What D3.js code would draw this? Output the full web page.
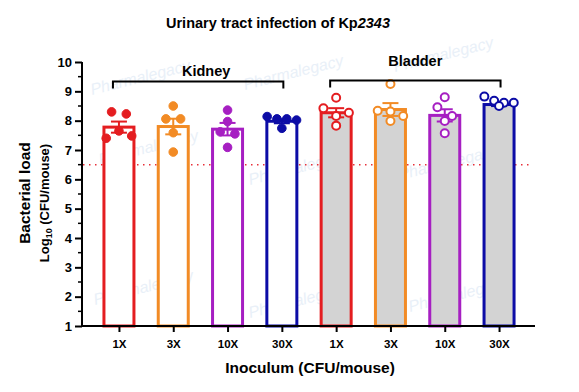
<!DOCTYPE html>
<html><head><meta charset="utf-8">
<script src="https://cdn.jsdelivr.net/npm/d3@7"></script>
<style>body{margin:0;background:#fff}svg{display:block}text{font-family:"Liberation Sans",Arial,sans-serif}</style>
</head><body><svg id="c" width="579" height="392"></svg>
<script>
// ---- data ----
const categories = ["1X","3X","10X","30X","1X","3X","10X","30X"];
const organs = ["Kidney","Kidney","Kidney","Kidney","Bladder","Bladder","Bladder","Bladder"];
const groupNames = ["Kidney","Bladder"];
const means = [7.78, 7.80, 7.71, 7.98, 8.27, 8.38, 8.18, 8.55];
const points = [
  [8.30, 8.23, 7.40, 7.65, 7.48],
  [8.50, 8.06, 8.06, 7.59, 6.93],
  [8.36, 7.97, 7.62, 7.55, 7.09],
  [8.14, 8.06, 8.06, 8.02, 7.74],
  [8.78, 8.42, 8.16, 8.27, 7.83],
  [9.25, 8.34, 8.31, 8.16, 7.99],
  [8.80, 8.46, 8.16, 7.99, 7.57],
  [8.82, 8.68, 8.61, 8.61, 8.50]
];
const detectionLimit = 6.5;
const yTicks = [1,2,3,4,5,6,7,8,9,10];
const yMinorTicks = [1.5,2.5,3.5,4.5,5.5,6.5,7.5,8.5,9.5];
const colors = ["#e41d20","#f28b25","#a61fc2","#0c0ca6","#e41d20","#f28b25","#a61fc2","#0c0ca6"];
const bladderFill = "#d3d3d3";

// ---- layout ----
const svg = d3.select("#c");
const x = d3.scaleBand().domain(d3.range(categories.length)).range([91.8, 526.2]).paddingInner(0.45).paddingOuter(0.225);
const y = d3.scaleLinear().domain([1,10]).range([326, 62]);
const cx = i => x(i) + x.bandwidth()/2;

// watermark (faint)
const wm = [[92,95],[245,90],[395,72],[100,165],[250,185],[400,180],[95,305],[250,318],[410,312]];
svg.append("g").selectAll("text").data(wm).join("text")
  .attr("transform", d => `translate(${d[0]},${d[1]}) rotate(-14)`)
  .attr("font-size", 16).attr("font-style","italic").attr("fill","#e9f0f8")
  .text("Pharmalegacy");

// detection limit
svg.append("line").attr("x1", 83).attr("x2", 533).attr("y1", y(detectionLimit)).attr("y2", y(detectionLimit))
  .attr("stroke", "#e8303a").attr("stroke-width", 1.5).attr("stroke-dasharray", "1.5,4.5");

// bars
const bw = 30;
svg.append("g").selectAll("rect").data(means).join("rect")
  .attr("x", (d,i) => cx(i) - bw/2).attr("width", bw)
  .attr("y", d => y(d)).attr("height", d => y(1) - y(d))
  .attr("fill", (d,i) => organs[i] === "Bladder" ? bladderFill : "#fff")
  .attr("stroke", (d,i) => colors[i]).attr("stroke-width", 3);

// error bars (SEM)
const eg = svg.append("g");
means.forEach((m,i) => {
  const sem = d3.deviation(points[i]) / Math.sqrt(points[i].length);
  const c = cx(i), col = colors[i];
  eg.append("line").attr("x1", c).attr("x2", c).attr("y1", y(m - sem)).attr("y2", y(m + sem)).attr("stroke", col).attr("stroke-width", 2);
  [m - sem, m + sem].forEach(v => eg.append("line").attr("x1", c - 8).attr("x2", c + 8).attr("y1", y(v)).attr("y2", y(v)).attr("stroke", col).attr("stroke-width", 2));
});

// points (row-centred scatter)
const spacing = 9.8, rowGap = 9.2, r = 4.3;
const pg = svg.append("g");
points.forEach((vals, i) => {
  const idx = vals.map((v,k) => k).sort((a,b) => vals[b] - vals[a]);
  const rows = [];
  idx.forEach(k => {
    const last = rows[rows.length-1];
    if (last && (y(vals[k]) - y(vals[last[0]])) < rowGap) last.push(k); else rows.push([k]);
  });
  rows.forEach(row => {
    row.sort((a,b) => a - b);
    row.forEach((k, j) => {
      const off = (j - (row.length - 1)/2) * spacing * (row.length === 2 ? 1.5 : (row.length === 3 ? 1.3 : 1));
      const open = organs[i] === "Bladder";
      pg.append("circle").attr("cx", cx(i) + off).attr("cy", y(vals[k])).attr("r", open ? r - 0.3 : r)
        .attr("fill", open ? "#fff" : colors[i]).attr("stroke", colors[i]).attr("stroke-width", open ? 2 : 1);
    });
  });
});

// y axis
const yAxis = d3.axisLeft(y).tickValues(yTicks).tickSize(7).tickPadding(3).tickFormat(d3.format("d"));
const ya = svg.append("g").attr("transform", "translate(82,0)").call(yAxis);
ya.select(".domain").attr("stroke", "#000").attr("stroke-width", 2).attr("d", `M0,${y(1)+1}V${y(10)}`);
ya.selectAll(".tick line").attr("stroke-width", 2);
ya.selectAll(".tick text").attr("font-size", 13).attr("font-weight", "bold").attr("fill", "#000").style("font-family", '"Liberation Sans",Arial,sans-serif');
svg.append("g").selectAll("line").data(yMinorTicks).join("line")
  .attr("x1", 78).attr("x2", 82).attr("y1", d => y(d)).attr("y2", d => y(d)).attr("stroke", "#000").attr("stroke-width", 1.5);

// x axis
const xs = d3.scalePoint().domain(d3.range(categories.length)).range([cx(0), cx(7)]);
const xAxis = d3.axisBottom(xs).tickSize(6).tickPadding(8).tickFormat(i => categories[i]);
const xa = svg.append("g").attr("transform", `translate(0,${y(1)})`).call(xAxis);
xa.select(".domain").attr("d", "M81,0H535").attr("stroke", "#000").attr("stroke-width", 2);
xa.selectAll(".tick line").attr("stroke-width", 2);
xa.selectAll(".tick text").attr("font-size", 11.5).attr("font-weight", "bold").attr("fill", "#000").style("font-family", '"Liberation Sans",Arial,sans-serif');

// brackets
const brackets = [{name: groupNames[0], a: 0, b: 3, yb: 81.5, ty: 75.5, dx: 8}, {name: groupNames[1], a: 4, b: 7, yb: 80.5, ty: 65.5, dx: 0}];
brackets.forEach(g => {
  const x1 = cx(g.a) - 6, x2 = cx(g.b) + 1.5;
  svg.append("path").attr("d", `M${x1},${g.yb+7}V${g.yb}H${x2}V${g.yb+7}`).attr("fill", "none").attr("stroke", "#000").attr("stroke-width", 2);
  svg.append("text").attr("x", (x1 + x2)/2 + g.dx).attr("y", g.ty).attr("text-anchor", "middle").attr("font-size", 14.5).attr("font-weight", "bold").text(g.name);
});

// titles
const t = svg.append("text").attr("x", 278).attr("y", 28).attr("text-anchor", "middle").attr("font-size", 14.5).attr("font-weight", "bold");
t.append("tspan").text("Urinary tract infection of Kp");
t.append("tspan").attr("font-style", "italic").text("2343");

svg.append("text").attr("x", 310).attr("y", 373).attr("text-anchor", "middle").attr("font-size", 15.5).attr("font-weight", "bold").text("Inoculum (CFU/mouse)");

svg.append("text").attr("transform", "translate(30,193) rotate(-90)").attr("text-anchor", "middle").attr("font-size", 15.5).attr("font-weight", "bold").text("Bacterial load");
const yl = svg.append("text").attr("transform", "translate(49,203) rotate(-90)").attr("text-anchor", "middle").attr("font-size", 13).attr("font-weight", "bold");
yl.append("tspan").text("Log");
yl.append("tspan").attr("font-size", 9).attr("dy", 3).text("10");
yl.append("tspan").attr("dy", -3).text(" (CFU/mouse)");
</script></body></html>
